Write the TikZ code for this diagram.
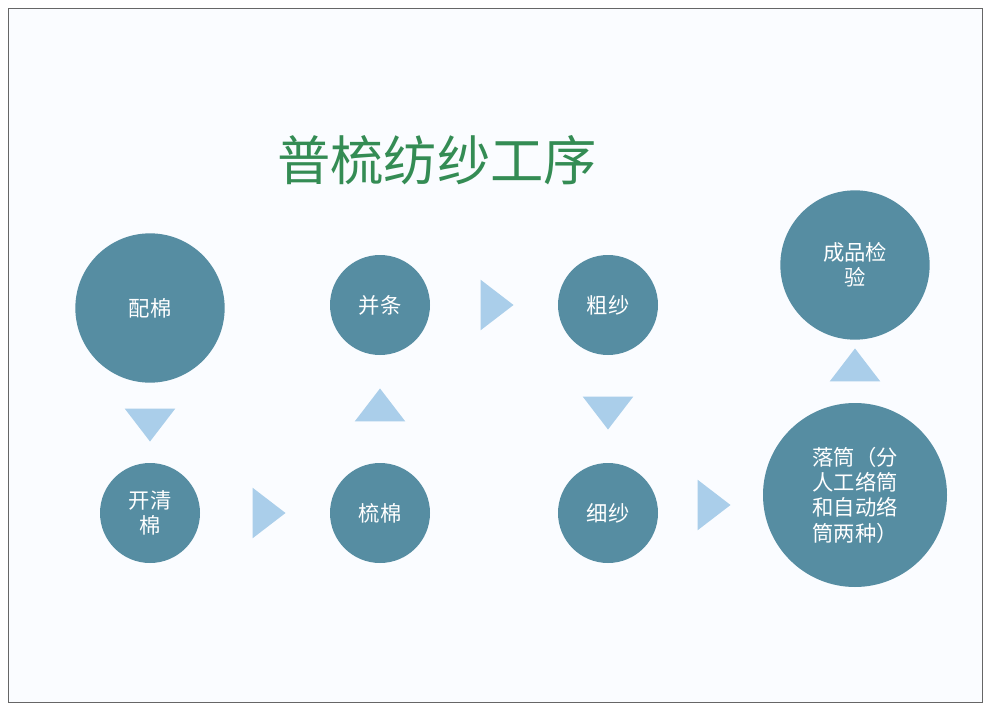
\documentclass[tikz,border=0pt]{standalone}
\usepackage{fontspec}
\newfontfamily\cjk{Noto Sans CJK SC}
\usetikzlibrary{shapes.geometric}
\definecolor{stepblue}{RGB}{86,141,162}
\definecolor{arrowblue}{RGB}{170,206,234}
\definecolor{titlegreen}{RGB}{52,140,84}
\definecolor{pagebg}{RGB}{250,252,255}
\begin{document}
\begin{tikzpicture}[x=0.75pt,y=-0.75pt,
stepnode/.style={circle,fill=stepblue,text=white,font=\cjk\fontsize{16}{19}\selectfont,align=center,inner sep=0pt},
small/.style={stepnode,minimum size=75pt},
big/.style={stepnode,minimum size=112pt},
tri/.style={isosceles triangle,isosceles triangle apex angle=75,fill=arrowblue,inner sep=0pt,minimum height=20pt,minimum width=38pt}]

\useasboundingbox (0,0) rectangle (990,710);
\fill[pagebg] (8,8) rectangle (982,702);
\draw[black!60] (8,8) rectangle (982,702);

\node (title) at (437,160) [font=\cjk\fontsize{40}{44}\selectfont\addfontfeature{}, text=titlegreen] {普梳纺纱工序};

\node (peimian) at (150,308) [big] {配棉};
\node (kaiqing) at (150,513) [small] {开清\\棉};
\node (shumian) at (380,513) [small] {梳棉};
\node (bingtiao) at (380,305) [small] {并条};
\node (cusha) at (608,305) [small] {粗纱};
\node (xisha) at (608,513) [small] {细纱};
\node (luotong) at (855,495) [stepnode,minimum size=138pt] {落筒（分\\人工络筒\\和自动络\\筒两种）};
\node (jianyan) at (855,265) [big] {成品检\\验};

\node (t1) at (150,421) [tri,shape border rotate=-90] {};
\node (t2) at (265,513) [tri] {};
\node (t3) at (380,409) [tri,shape border rotate=90] {};
\node (t4) at (493,305) [tri] {};
\node (t5) at (608,409) [tri,shape border rotate=-90] {};
\node (t6) at (710,505) [tri] {};
\node (t7) at (855,369) [tri,shape border rotate=90] {};

\end{tikzpicture}
\end{document}
